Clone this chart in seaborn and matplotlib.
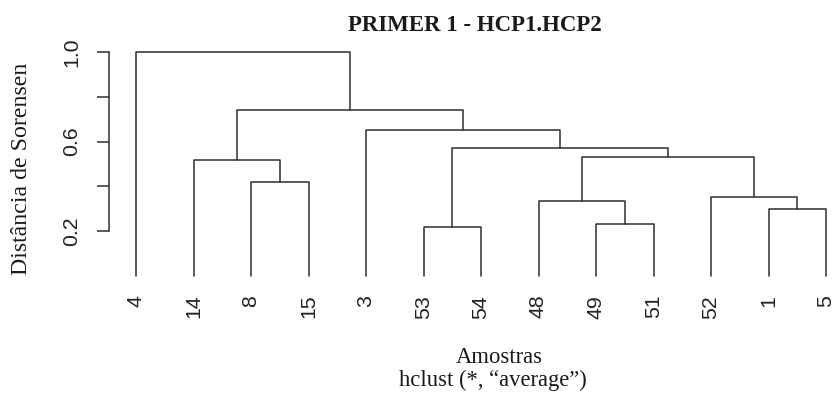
import matplotlib
matplotlib.use("Agg")
import matplotlib.pyplot as plt
import pandas as pd
import seaborn as sns
from matplotlib.transforms import Bbox, TransformedBbox

# leaf order as drawn, left to right
leaf_labels = ["4", "14", "8", "15", "3", "53", "54", "48", "49", "51", "52", "1", "5"]

# R-style merge table: negative = leaf (1-based), positive = earlier merge step
merge_a = [-6, -9, -12, -8, -11, -3, -2, 4, 1, -5, 7, -1]
merge_b = [-7, -10, -13, 2, 3, -4, 6, 5, 8, 9, 10, 11]
merge_height = [0.218, 0.230, 0.300, 0.334, 0.354, 0.419, 0.517, 0.530, 0.570, 0.654, 0.740, 1.000]

y_ticks = [0.2, 0.4, 0.6, 0.8, 1.0]
y_ticklabels = ["0.2", "", "0.6", "", "1.0"]

LINE = "#2e2e2e"
TEXT = "#1a1a1a"


def build_segments():
    node_x, node_h = {}, {}
    rows = []
    for step, (a, b, h) in enumerate(zip(merge_a, merge_b, merge_height), start=1):
        pts = []
        for child in (a, b):
            if child < 0:
                cx, ch = -child - 1, 0.0
            else:
                cx, ch = node_x[child], node_h[child]
            pts.append((cx, ch))
        (xa, ha), (xb, hb) = pts
        for k, (x, y) in enumerate([(xa, ha), (xa, h), (xb, h), (xb, hb)]):
            rows.append({"seg": step, "order": k, "x": x, "y": y})
        node_x[step] = (xa + xb) / 2
        node_h[step] = h
    return pd.DataFrame(rows)


sns.set_theme(style="white")
plt.rcParams["font.family"] = ["Liberation Serif", "DejaVu Serif"]

W, H = 834, 398
fig = plt.figure(figsize=(W / 100, H / 100), dpi=100)
ax = fig.add_axes([109.3 / W, 1 - 290 / H, (830 - 109.3) / W, (290 - 40) / H])

segs = build_segments()
sns.lineplot(data=segs, x="x", y="y", units="seg", estimator=None, sort=False,
             color=LINE, linewidth=1.1, ax=ax, legend=False)

ax.set_xlim((109.3 - 136) / 57.5, (830 - 136) / 57.5)
ax.set_ylim(1 - (290 - 52.3) / 223.4, 1 - (40 - 52.3) / 223.4)

for side in ["top", "right", "bottom"]:
    ax.spines[side].set_visible(False)
ax.spines["left"].set_bounds(0.2, 1.0)
ax.spines["left"].set_color(LINE)
ax.spines["left"].set_linewidth(1.1)

ax.set_yticks(y_ticks)
ax.set_yticklabels(y_ticklabels, rotation=90, va="center",
                   fontfamily="Liberation Sans", fontsize=15.3, color="#222222")
ax.tick_params(axis="y", left=True, length=9, width=1.1, color=LINE, pad=11)

ax.set_xticks(range(len(leaf_labels)))
ax.set_xticklabels(leaf_labels, rotation=90, fontfamily="Liberation Sans",
                   fontsize=15.3, color="#222222")
ax.tick_params(axis="x", bottom=False, length=0, pad=3.5)
ax.set_xlabel("")
ax.set_ylabel("")

# the top of the "1.0" label is cut off in the original
clip = TransformedBbox(Bbox([[0, 0], [1, 1 - 41 / H]]), fig.transFigure)
for lab in ax.get_yticklabels():
    lab.set_clip_on(True)
    lab.set_clip_box(clip)

fig.text(475 / W, 1 - 31 / H, "PRIMER 1 - HCP1.HCP2", ha="center", va="baseline",
         fontsize=16.5, fontweight="bold", color=TEXT)
fig.text(499.5 / W, 1 - 363.3 / H, "Amostras", ha="center", va="baseline",
         fontsize=16.3, color=TEXT)
fig.text(493 / W, 1 - 386 / H, "hclust (*, \u201caverage\u201d)", ha="center",
         va="baseline", fontsize=16.3, color=TEXT)
fig.text(21.7 / W, 1 - 169.2 / H, "Dist\u00e2ncia de Sorensen", rotation=90,
         ha="center", va="center", fontsize=17.2, color=TEXT)

fig.savefig("out.png", dpi=100)
